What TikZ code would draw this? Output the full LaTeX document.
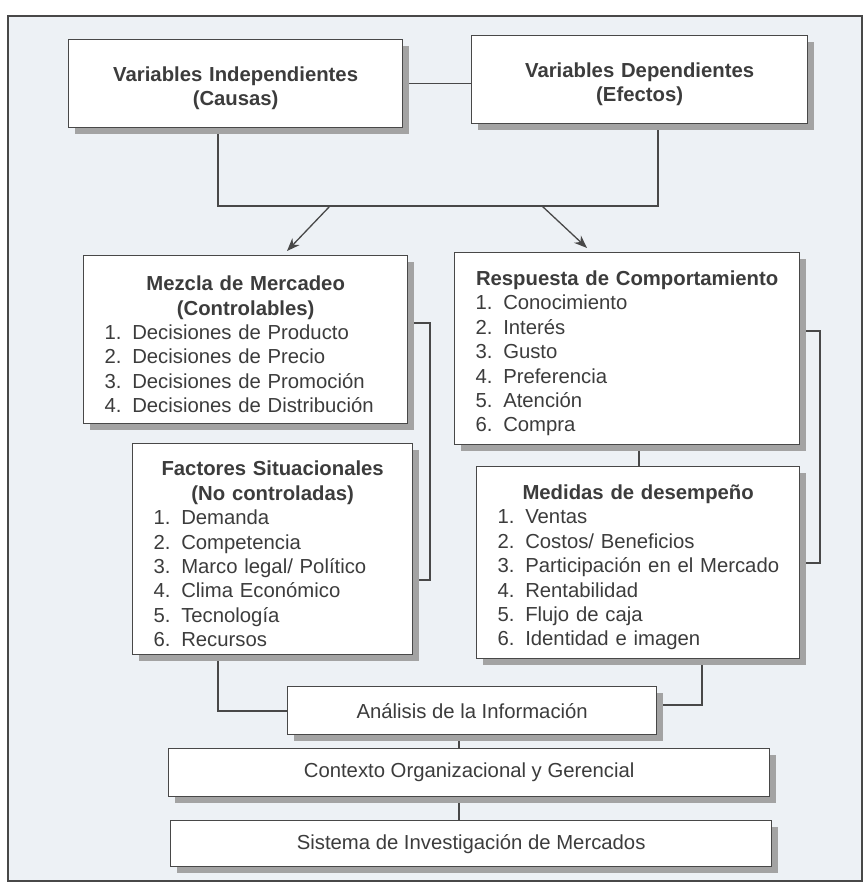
\documentclass[tikz,border=0pt]{standalone}
\usepackage{fontspec}
\setmainfont{Liberation Sans}
\usetikzlibrary{shadows,arrows.meta}

\definecolor{panel}{HTML}{EDF1F5}
\definecolor{ink}{HTML}{3C3C3C}
\definecolor{rule}{HTML}{484848}

% one numbered line of a list, and one centred heading line
\newcommand{\itm}[2]{\par\noindent\makebox[1.36em][l]{#1.}\mbox{#2}}
\newcommand{\ttl}[1]{\par\noindent\makebox[\linewidth]{\bfseries #1}}

\pgfdeclarelayer{back}
\pgfdeclarelayer{wires}
\pgfsetlayers{back,wires,main}

\begin{document}
\begin{tikzpicture}[x=1pt,y=-1pt,
  card/.style={draw=rule, line width=1.3pt, fill=white, anchor=north west,
    inner xsep=21pt, inner ysep=0pt, align=left, text=ink,
    font=\fontsize{20.3}{24.4}\selectfont,
    general shadow={fill=black!36, shadow xshift=6pt, shadow yshift=-6.5pt}},
  plain/.style={card, align=center},
  wire/.style={draw=rule, line width=1.3pt},
  pointer/.style={wire, -{Stealth[length=13pt,width=10pt]}}]

\useasboundingbox (0,0) rectangle (866,885);

% causes and effects
\node[card, text width=292pt, minimum height=88pt] (vi) at (68,39)
  {\ttl{Variables Independientes}\ttl{(Causas)}};
\node[card, text width=294pt, minimum height=88pt] (vd) at (471,35)
  {\ttl{Variables Dependientes}\ttl{(Efectos)}};

% marketing mix and situational factors
\node[card, text width=282pt, minimum height=168pt] (mz) at (83,255)
  {\ttl{Mezcla de Mercadeo}\ttl{(Controlables)}%
   \itm{1}{Decisiones de Producto}\itm{2}{Decisiones de Precio}%
   \itm{3}{Decisiones de Promoción}\itm{4}{Decisiones de Distribución}};
\node[card, text width=238pt, minimum height=211pt] (fs) at (132,443)
  {\ttl{Factores Situacionales}\ttl{(No controladas)}%
   \itm{1}{Demanda}\itm{2}{Competencia}\itm{3}{Marco legal/ Político}%
   \itm{4}{Clima Económico}\itm{5}{Tecnología}\itm{6}{Recursos}};

% behavioural response and performance measures
\node[card, text width=303pt, minimum height=192pt] (rc) at (454,252)
  {\ttl{Respuesta de Comportamiento}%
   \itm{1}{Conocimiento}\itm{2}{Interés}\itm{3}{Gusto}%
   \itm{4}{Preferencia}\itm{5}{Atención}\itm{6}{Compra}};
\node[card, text width=281pt, minimum height=192pt] (md) at (476,466)
  {\ttl{Medidas de desempeño}%
   \itm{1}{Ventas}\itm{2}{Costos/ Beneficios}\itm{3}{Participación en el Mercado}%
   \itm{4}{Rentabilidad}\itm{5}{Flujo de caja}\itm{6}{Identidad e imagen}};

% bottom stack
\node[plain, minimum width=369pt, minimum height=48pt] (an) at (287,686)
  {Análisis de la Información};
\node[plain, minimum width=601pt, minimum height=48pt] (cx) at (168,748)
  {Contexto Organizacional y Gerencial};
\node[plain, minimum width=601pt, minimum height=46pt] (si) at (170,820)
  {Sistema de Investigación de Mercados};

% panel behind everything
\begin{pgfonlayer}{back}
  \fill[white] (0,0) rectangle (866,885);
  \draw[fill=panel, draw=rule, line width=1.3pt] (8,16) rectangle (862,881);
\end{pgfonlayer}

% connectors
\begin{pgfonlayer}{wires}
  \draw[wire] (vi.east) -- (vd.west |- vi.east);

  \coordinate (fkL) at (218,206);
  \coordinate (fkR) at (658,206);
  \draw[wire] (vi.south -| fkL) -- (fkL) -- (fkR) -- (vd.south -| fkR);

  \coordinate (aL) at (330,206);
  \coordinate (tL) at (287,251);
  \coordinate (aR) at (542,206);
  \coordinate (tR) at (587,248);
  \draw[pointer] (aL) -- (tL);
  \draw[pointer] (aR) -- (tR);

  \coordinate (bL1) at (430,323);
  \coordinate (bL2) at (430,580);
  \draw[wire] (bL1 -| mz.east) -- (bL1) -- (bL2) -- (bL2 -| fs.east);

  \coordinate (bR1) at (820,331);
  \coordinate (bR2) at (820,563);
  \draw[wire] (bR1 -| rc.east) -- (bR1) -- (bR2) -- (bR2 -| md.east);

  \coordinate (rm) at (639,0);
  \draw[wire] (rc.south -| rm) -- (md.north -| rm);

  \coordinate (dL) at (218,711);
  \draw[wire] (fs.south -| dL) -- (dL) -- (an.west |- dL);
  \coordinate (dR) at (702,705);
  \draw[wire] (md.south -| dR) -- (dR) -- (an.east |- dR);

  \coordinate (mid) at (459,0);
  \draw[wire] (an.south -| mid) -- (cx.north -| mid);
  \draw[wire] (cx.south -| mid) -- (si.north -| mid);
\end{pgfonlayer}
\end{tikzpicture}
\end{document}
